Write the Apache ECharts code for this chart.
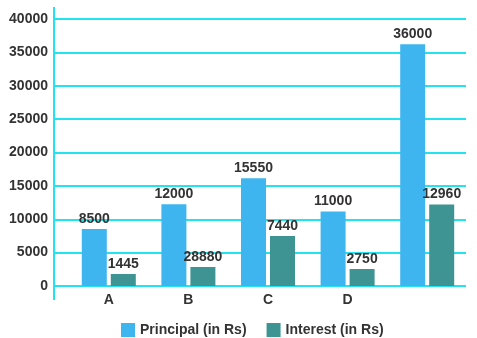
<!DOCTYPE html>
<html><head><meta charset="utf-8">
<script src="https://cdn.jsdelivr.net/npm/echarts@6/dist/echarts.min.js"></script>
<style>html,body{margin:0;padding:0;background:#fff}#c{width:477px;height:338px}</style>
</head><body><div id="c"></div>
<script>
var categories = ['A', 'B', 'C', 'D', ''];
var principal = [8550, 12250, 16150, 11150, 36200];
var interest = [1800, 2850, 7500, 2550, 12200];
var principalLabels = ['8500', '12000', '15550', '11000', '36000'];
var interestLabels = ['1445', '28880', '7440', '2750', '12960'];
var yTicks = [0, 5000, 10000, 15000, 20000, 25000, 30000, 35000, 40000];

var chart = echarts.init(document.getElementById('c'));
var grid = '#22e4ef';
var FONT = 'Liberation Sans, Arial, sans-serif';
var lbl = {show: true, position: 'top', distance: 3, color: '#333', fontSize: 14, fontWeight: 'bold', fontFamily: FONT};
chart.setOption({
  animation: false,
  grid: [
    {left: 54, right: 11, top: 19, bottom: 52},
    {left: 69, right: 10, top: 19, bottom: 52}
  ],
  legend: {
    left: 116, top: 318, icon: 'rect', itemWidth: 14, itemHeight: 14, itemGap: 20,
    textStyle: {color: '#333', fontSize: 14, fontWeight: 'bold', fontFamily: FONT},
    data: ['Principal (in Rs)', 'Interest (in Rs)']
  },
  xAxis: [
    {gridIndex: 0, type: 'value', show: false, min: 0, max: 1},
    {gridIndex: 1, type: 'category', data: categories,
     axisLine: {show: false}, axisTick: {show: false},
     axisLabel: {margin: 7, color: '#333', fontSize: 14, fontWeight: 'bold', fontFamily: FONT}}
  ],
  yAxis: [
    {gridIndex: 0, type: 'value', min: yTicks[0], max: yTicks[yTicks.length - 1], interval: yTicks[1] - yTicks[0],
     axisLine: {show: false}, axisTick: {show: false},
     splitLine: {lineStyle: {color: grid, width: 2}},
     axisLabel: {margin: 6, color: '#333', fontSize: 14, fontWeight: 'bold', fontFamily: FONT,
                 formatter: function (v) { return String(v); }}},
    {gridIndex: 1, type: 'value', min: yTicks[0], max: yTicks[yTicks.length - 1], show: false, splitLine: {show: false}}
  ],
  graphic: [
    {type: 'line', shape: {x1: 54, y1: 7, x2: 54, y2: 300}, style: {stroke: grid, lineWidth: 2}}
  ],
  series: [
    {name: 'Principal (in Rs)', type: 'bar', xAxisIndex: 1, yAxisIndex: 1, data: principal,
     barWidth: 25, barGap: '16%', itemStyle: {color: '#3fb5f0'},
     label: Object.assign({}, lbl, {formatter: function (p) { return principalLabels[p.dataIndex]; }})},
    {name: 'Interest (in Rs)', type: 'bar', xAxisIndex: 1, yAxisIndex: 1, data: interest,
     barWidth: 25, barGap: '16%', itemStyle: {color: '#3e9393'},
     label: Object.assign({}, lbl, {formatter: function (p) { return interestLabels[p.dataIndex]; }})}
  ]
});
</script></body></html>
